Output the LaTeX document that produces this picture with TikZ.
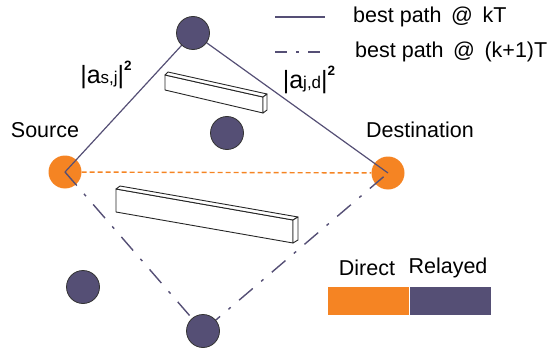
\documentclass[tikz,border=0pt]{standalone}
\usepackage{fontspec}
\setmainfont{Liberation Sans}
\definecolor{relayblue}{HTML}{554F75}
\definecolor{directorange}{HTML}{F58423}
\tikzset{
	relay/.style={circle, draw=black!80, fill=relayblue, minimum size=33pt, inner sep=0pt, line width=0.8pt},
	terminal/.style={circle, fill=directorange, minimum size=33pt, inner sep=0pt},
	bestk/.style={relayblue, line width=1.2pt},
	bestknext/.style={relayblue, line width=1.4pt, dash pattern=on 18pt off 11pt on 3pt off 11pt},
	direct/.style={directorange, line width=1.4pt, dash pattern=on 5pt off 3pt},
	slab/.style={draw=black!85, fill=white, line width=0.9pt, line join=round},
	lbl/.style={font=\fontsize{21.5}{24}\selectfont, inner sep=0pt},
	gain/.style={font=\fontsize{25}{28}\selectfont, inner sep=0pt},
	bar/.style={minimum width=81pt, minimum height=28pt, inner sep=0pt},
}
\newcommand{\chgain}[1]{|a{\fontsize{17}{19}\selectfont #1}|\raisebox{0.95ex}{\fontsize{13.5}{15}\selectfont\bfseries 2}}
\begin{document}
\begin{tikzpicture}[x=1pt, y=-1pt]
	\useasboundingbox (0,0) rectangle (548,350);

	% obstacles
	\draw[slab] (165,75) -- (263,97) -- (263,113) -- (165,90) -- cycle;
	\draw[slab] (165,75) -- (168,72) -- (267,94) -- (263,97) -- cycle;
	\draw[slab] (263,97) -- (267,94) -- (267,110) -- (263,113) -- cycle;
	\draw[slab] (116,189) -- (293,220) -- (293,243) -- (116,212) -- cycle;
	\draw[slab] (116,189) -- (120,186) -- (298,217) -- (293,220) -- cycle;
	\draw[slab] (293,220) -- (298,217) -- (298,240) -- (293,243) -- cycle;

	\node[terminal] (src) at (65,172) {};
	\node[terminal] (dst) at (388,173) {};
	\coordinate (jtop) at (193,33);
	\coordinate (jbot) at (203,331);

	\draw[direct] (src) -- (dst);
	\draw[bestk] (src.center) -- (jtop) -- (dst.center);
	\draw[bestknext] (src.center) -- (jbot) -- (dst.center);

	\node[relay] (top) at (jtop) {};
	\node[relay] (mid) at (227,133) {};
	\node[relay] (left) at (83,287) {};
	\node[relay] (bot) at (jbot) {};

	\node[lbl] (srclbl) at (45,130) {Source};
	\node[lbl] (dstlbl) at (420,130) {Destination};
	\node[gain] (sjlbl) at (106,75) {\chgain{s,j}};
	\node[gain] (jdlbl) at (309,80) {\chgain{j,d}};

	% legend
	\coordinate (lk1) at (275,17);
	\coordinate (lk2) at (325,17);
	\coordinate (ln1) at (275,52);
	\coordinate (ln2) at (325,52);
	\draw[bestk] (lk1) -- (lk2);
	\draw[relayblue, line width=1.4pt, dash pattern=on 12pt off 9pt on 3pt off 9pt] (ln1) -- (ln2);
	\node[lbl, anchor=west] (lkt) at (353,17) {best path \,@\, kT};
	\node[lbl, anchor=west] (lnt) at (355,52) {best path \,@\, (k+1)T};

	\node[bar, fill=directorange] (directbar) at (368.5,301) {};
	\node[bar, fill=relayblue] (relaybar) at (450,301) {};
	\node[lbl] (directlbl) at (367,268) {Direct};
	\node[lbl] (relaylbl) at (448,268) {Relayed};
\end{tikzpicture}
\end{document}
